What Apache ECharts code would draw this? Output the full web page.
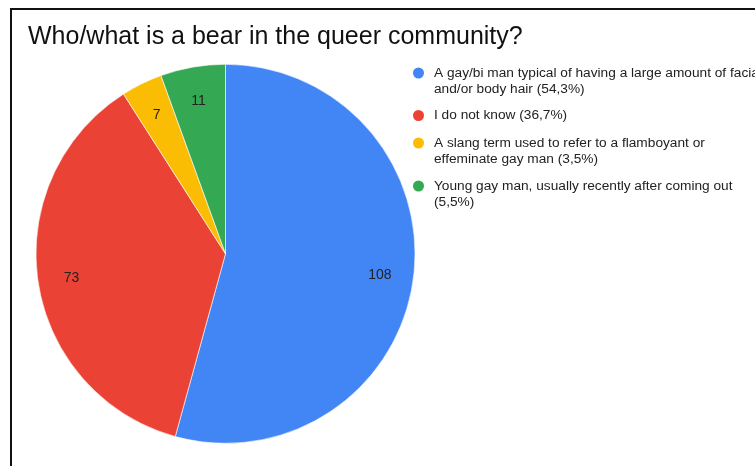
<!DOCTYPE html>
<html>
<head>
<meta charset="utf-8">
<style>
  html, body { margin: 0; padding: 0; background: #fff; }
  #wrap { position: relative; width: 755px; height: 466px; overflow: hidden; }
  #frame { position: absolute; left: 10px; top: 8px; width: 800px; height: 500px;
           border-left: 2.5px solid #111; border-top: 2.5px solid #111; }
  #chart { position: absolute; left: 0; top: 0; width: 755px; height: 466px; }
</style>
<script src="https://cdn.jsdelivr.net/npm/echarts@6/dist/echarts.min.js"></script>
</head>
<body>
<div id="wrap">
  <div id="frame"></div>
  <div id="chart"></div>
</div>
<script>
// Survey answers and the number of respondents for each
const categories = [
  'A gay/bi man typical of having a large amount of facial\nand/or body hair',
  'I do not know',
  'A slang term used to refer to a flamboyant or\neffeminate gay man',
  'Young gay man, usually recently after coming out'
];
const counts = [108, 73, 7, 11];
const colors = ['#4285F4', '#EA4335', '#FBBC04', '#34A853'];

const total = counts.reduce((a, b) => a + b, 0);
const pct = v => (v / total * 100).toFixed(1).replace('.', ',') + '%';

const pieData = categories.map((name, i) => ({ name: name, value: counts[i] }));

// percentage goes on its own line for the last answer
const pctOwnLine = [false, false, false, true];
const legendTops = [49, 107.5, 119, 162];

function legendText(name) {
  const i = categories.indexOf(name);
  const txt = name + (pctOwnLine[i] ? '\n' : ' ') + '(' + pct(counts[i]) + ')';
  // leading blank line keeps the marker level with the first text line
  return txt.indexOf('\n') >= 0 ? '\n' + txt : txt;
}

const chart = echarts.init(document.getElementById('chart'), null, { renderer: 'canvas' });

chart.setOption({
  animation: false,
  color: colors,
  title: {
    text: 'Who/what is a bear in the queer community?',
    left: 28,
    top: 25,
    padding: 0,
    textStyle: { fontFamily: 'Liberation Sans, Arial, sans-serif', fontSize: 25, fontWeight: 'normal', color: '#111' }
  },
  legend: categories.map((name, i) => ({
    data: [name],
    orient: 'vertical',
    left: 411,
    top: legendTops[i],
    padding: 0,
    icon: 'circle',
    itemWidth: 21,
    itemHeight: 13,
    selectedMode: false,
    formatter: legendText,
    textStyle: { fontFamily: 'Liberation Sans, Arial, sans-serif', fontSize: 13.7, lineHeight: 16, color: '#222' }
  })),
  series: [
    {
      type: 'pie',
      center: [225.5, 253.8],
      radius: [0, 189.5],
      startAngle: 90,
      clockwise: true,
      avoidLabelOverlap: false,
      itemStyle: { borderColor: '#fff', borderWidth: 0.6 },
      label: { show: false },
      labelLine: { show: false },
      emphasis: { disabled: true },
      data: pieData
    },
    {
      // value labels sit on a ring about four fifths of the way out
      type: 'pie',
      center: [225.5, 253.8],
      radius: [116, 189.5],
      startAngle: 90,
      clockwise: true,
      silent: true,
      avoidLabelOverlap: false,
      itemStyle: { color: 'rgba(0,0,0,0)', borderWidth: 0 },
      label: {
        show: true,
        position: 'inside',
        formatter: p => String(p.value),
        fontFamily: 'Liberation Sans, Arial, sans-serif',
        fontSize: 14,
        offset: [0, 1],
        color: '#222'
      },
      labelLine: { show: false },
      emphasis: { disabled: true },
      data: pieData
    }
  ]
});
</script>
</body>
</html>
